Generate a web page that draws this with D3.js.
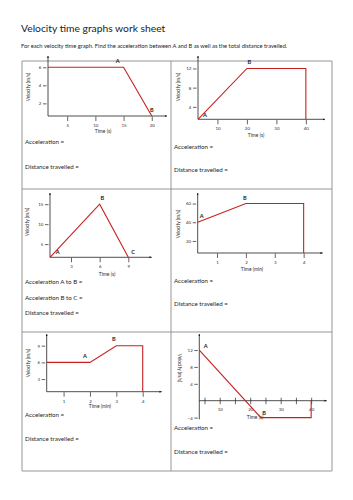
<!DOCTYPE html>
<html>
<head>
<meta charset="utf-8">
<script src="https://cdn.jsdelivr.net/npm/d3@7"></script>
<style>
body { margin: 0; background: #fff; }
svg { display: block; font-family: Lato, "Open Sans", sans-serif; }
</style>
</head>
<body>
<svg id="sheet" width="353" height="500"></svg>
<script>
//Worksheet text
const TITLE = "Velocity time graphs work sheet";
const INTRO = "For each velocity time graph. Find the acceleration between A and B as well as the total distance travelled.";
const Y_TITLE = "Velocity (m/s)";

//Graph 1 (top left)
const g1Time = [1.6, 15, 20];
const g1Vel = [6, 6, 0.6];
const g1Names = ["", "A", "B"];
const g1XTicks = [5, 10, 15, 20];
const g1YTicks = [2, 4, 6];
const g1Questions = ["Acceleration =", "Distance travelled ="];

//Graph 2 (top right)
const g2Time = [3.4, 20, 40, 40];
const g2Vel = [1.4, 12, 12, 1.4];
const g2Names = ["A", "B", "", ""];
const g2XTicks = [10, 20, 30, 40];
const g2YTicks = [4, 8, 12];
const g2Questions = ["Acceleration =", "Distance travelled ="];

//Graph 3 (middle left)
const g3Time = [0.8, 6, 9];
const g3Vel = [1.7, 15, 1.7];
const g3Names = ["A", "B", "C"];
const g3XTicks = [3, 6, 9];
const g3YTicks = [5, 10, 15];
const g3Questions = ["Acceleration A to B =", "Acceleration B to C =", "Distance travelled ="];

//Graph 4 (middle right)
const g4Time = [0.33, 2, 4, 4];
const g4Vel = [40, 60, 60, 7.1];
const g4Names = ["A", "B", "", ""];
const g4XTicks = [1, 2, 3, 4];
const g4YTicks = [20, 40, 60];
const g4Questions = ["Acceleration =", "Distance travelled ="];

//Graph 5 (bottom left)
const g5Time = [0.36, 2, 3, 4, 4];
const g5Vel = [6, 6, 9, 9, 0.73];
const g5Names = ["", "A", "B", "", ""];
const g5XTicks = [1, 2, 3, 4];
const g5YTicks = [3, 6, 9];
const g5Questions = ["Acceleration =", "Distance travelled ="];

//Graph 6 (bottom right)
const g6Time = [3.3, 23.5, 40, 40];
const g6Vel = [12, -4, -4, 0];
const g6Names = ["A", "B", "", ""];
const g6XTicks = [5, 10, 15, 20, 25, 30, 35, 40];
const g6XLabels = [10, 20, 30, 40];
const g6YTicks = [-4, 4, 8, 12];
const g6Questions = ["Acceleration =", "Distance travelled ="];

const RED = "#c8201f";
const INK = "#2e2e2e";

//Layout of each graph on the sheet
const graphs = [
    {time: g1Time, vel: g1Vel, names: g1Names, xTicks: g1XTicks, yTicks: g1YTicks, questions: g1Questions,
     unit: "Time (s)", left: 48, right: 167, top: 56, bottom: 116, x: [1.6, 22.7], y: [0.6, 7.25],
     offsets: {A: [-6, -6], B: [0, -5]}, timeAt: [103, 132], velAt: [29, 87],
     qx: 25, qy: [142, 167]},
    {time: g2Time, vel: g2Vel, names: g2Names, xTicks: g2XTicks, yTicks: g2YTicks, questions: g2Questions,
     unit: "Time (s)", left: 198, right: 325, top: 56, bottom: 119.3, x: [3.4, 46.5], y: [1.4, 14.6],
     offsets: {A: [7, -4], B: [2.5, -6]}, timeAt: [256, 136], velAt: [179, 87],
     qx: 174, qy: [147.3, 170.7]},
    {time: g3Time, vel: g3Vel, names: g3Names, xTicks: g3XTicks, yTicks: g3YTicks, questions: g3Questions,
     unit: "Time (s)", left: 50, right: 151.7, top: 193, bottom: 257.3, x: [0.8, 11.45], y: [1.7, 17.8],
     offsets: {A: [7.7, -4.3], B: [2.7, -5.7], C: [4.7, -4.3]}, timeAt: [107, 275], velAt: [28, 222],
     qx: 25, qy: [282, 298, 313.7]},
    {time: g4Time, vel: g4Vel, names: g4Names, xTicks: g4XTicks, yTicks: g4YTicks, questions: g4Questions,
     unit: "Time (min)", left: 197.7, right: 322.7, top: 193, bottom: 253, x: [0.33, 4.66], y: [7.1, 71.3],
     offsets: {A: [4, -5.7], B: [-1, -4.6]}, timeAt: [252, 270], velAt: [179, 224],
     qx: 174, qy: [281, 304]},
    {time: g5Time, vel: g5Vel, names: g5Names, xTicks: g5XTicks, yTicks: g5YTicks, questions: g5Questions,
     unit: "Time (min)", left: 46.7, right: 161.7, top: 334, bottom: 391.7, x: [0.36, 4.72], y: [0.73, 11.1],
     offsets: {A: [-5, -6], B: [-2.6, -5.7]}, timeAt: [100, 406.7], velAt: [29, 363],
     qx: 25, qy: [415.7, 439.3]},
    {time: g6Time, vel: g6Vel, names: g6Names, xTicks: g6XTicks, xLabels: g6XLabels, yTicks: g6YTicks, questions: g6Questions,
     unit: "Time (s)", left: 199.3, right: 326.7, top: 334, bottom: 400.7, x: [3.3, 45.1], y: [0, 15.8], yLow: -4.4,
     offsets: {A: [6.4, -3.3], B: [3.3, -4]}, timeAt: [255, 417.7], velAt: [179.3, 368], flipLabel: true,
     crossTicks: true, qx: 174, qy: [428.3, 452]}
];

const svg = d3.select("#sheet");

svg.append("rect").attr("width", 353).attr("height", 500).attr("fill", "#fff");

//Arrow tips for axes
svg.append("defs").append("marker")
    .attr("id", "tip")
    .attr("viewBox", "0 0 10 10")
    .attr("refX", 9).attr("refY", 5)
    .attr("markerWidth", 3.2).attr("markerHeight", 3.2)
    .attr("orient", "auto")
    .append("path")
    .attr("d", "M0,1 L10,5 L0,9 Z")
    .attr("fill", "#222");

//Heading
svg.append("text")
    .attr("x", 21).attr("y", 32)
    .attr("font-size", 10.3)
    .attr("fill", "#222")
    .text(TITLE);

svg.append("text")
    .attr("x", 21).attr("y", 47.6)
    .attr("font-size", 5.75)
    .attr("fill", "#1e1e1e")
    .text(INTRO);

//Table frame
const cols = [22, 171, 332];
const rows = [61, 189, 332, 471];
const frame = svg.append("g").attr("stroke", "#8a8a8a").attr("stroke-width", 0.9);
rows.forEach(r => frame.append("line").attr("x1", cols[0]).attr("x2", cols[2]).attr("y1", r).attr("y2", r));
cols.forEach(c => frame.append("line").attr("x1", c).attr("x2", c).attr("y1", rows[0]).attr("y2", rows[3]));

graphs.forEach(L => drawGraph(L));

function drawGraph(L) {
    let g = svg.append("g");
    let x = d3.scaleLinear().domain(L.x).range([L.left, L.right]);
    let y = d3.scaleLinear().domain(L.y).range([L.bottom, L.top]);

    //Time axis ticks
    let xAxis = d3.axisBottom(x)
        .tickValues(L.xTicks)
        .tickSize(4.5)
        .tickPadding(2.8)
        .tickFormat(v => (!L.xLabels || L.xLabels.includes(v)) ? d3.format("d")(v) : "");
    let xg = g.append("g")
        .attr("transform", "translate(0," + (L.bottom + 0.5) + ")")
        .call(xAxis);
    xg.select(".domain").remove();
    if (L.crossTicks) {
        xg.selectAll(".tick line").attr("y1", -3.5).attr("y2", 3);
        xg.selectAll(".tick text").attr("y", 6.5);
    }

    //Velocity axis ticks
    let yAxis = d3.axisLeft(y)
        .tickValues(L.yTicks)
        .tickSize(3.5)
        .tickPadding(1.6)
        .tickFormat(d3.format("d"));
    let yg = g.append("g")
        .attr("transform", "translate(" + (L.left - 1.5) + ",0)")
        .call(yAxis);
    yg.select(".domain").remove();

    g.selectAll(".tick line").attr("stroke", "#222").attr("stroke-width", 0.7);
    g.selectAll(".tick text")
        .attr("fill", INK)
        .attr("font-family", "Lato, sans-serif")
        .attr("font-size", 4.4);

    //Axis lines
    let yBase = L.yLow !== undefined ? y(L.yLow) : L.bottom;
    g.append("line")
        .attr("x1", L.left).attr("y1", yBase)
        .attr("x2", L.left).attr("y2", L.top)
        .attr("stroke", "#222").attr("stroke-width", 0.8)
        .attr("marker-end", "url(#tip)");
    g.append("line")
        .attr("x1", L.left).attr("y1", L.bottom)
        .attr("x2", L.right).attr("y2", L.bottom)
        .attr("stroke", "#222").attr("stroke-width", 0.8)
        .attr("marker-end", "url(#tip)");

    //Axis titles
    g.append("text")
        .attr("x", L.timeAt[0]).attr("y", L.timeAt[1])
        .attr("text-anchor", "middle")
        .attr("dominant-baseline", "middle")
        .attr("font-size", 4.9)
        .attr("fill", INK)
        .text(L.unit);
    g.append("text")
        .attr("transform", "translate(" + L.velAt[0] + "," + L.velAt[1] + ") rotate(" + (L.flipLabel ? 90 : -90) + ")")
        .attr("text-anchor", "middle")
        .attr("dominant-baseline", "middle")
        .attr("font-size", 4.8)
        .attr("fill", INK)
        .text(Y_TITLE);

    //Velocity-time line
    let pts = L.time.map((t, i) => [t, L.vel[i]]);
    g.append("path")
        .datum(pts)
        .attr("d", d3.line().x(d => x(d[0])).y(d => y(d[1])))
        .attr("fill", "none")
        .attr("stroke", RED)
        .attr("stroke-width", 1.1)
        .attr("stroke-linejoin", "miter");

    //Point names
    L.names.forEach((n, i) => {
        if (!n) return;
        let off = L.offsets[n];
        g.append("text")
            .attr("x", x(L.time[i]) + off[0])
            .attr("y", y(L.vel[i]) + off[1])
            .attr("text-anchor", "middle")
            .attr("dominant-baseline", "middle")
            .attr("font-size", 5.6)
            .attr("font-weight", "bold")
            .attr("fill", "#222")
            .text(n);
    });

    //Questions below the graph
    L.questions.forEach((q, i) => {
        g.append("text")
            .attr("x", L.qx).attr("y", L.qy[i])
            .attr("dominant-baseline", "middle")
            .attr("font-size", 6.2)
            .attr("fill", "#1e1e1e")
            .text(q);
    });
}
</script>
</body>
</html>
